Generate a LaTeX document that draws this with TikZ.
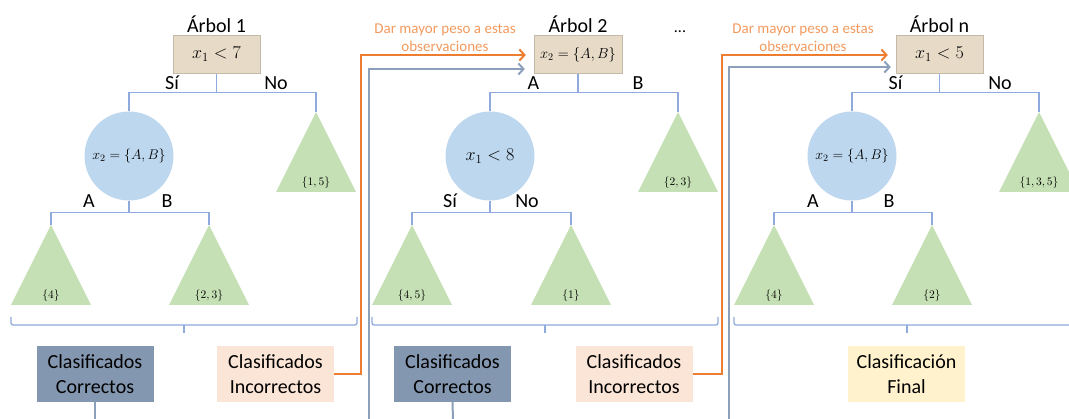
\RequirePackage{fix-cm}
\documentclass[tikz,border=0pt]{standalone}
\usepackage[no-math]{fontspec}
\setmainfont{Carlito}
\usepackage{xcolor}
\usepackage{tikz}
\usetikzlibrary{arrows.meta,positioning,calc}

\definecolor{rootfill}{HTML}{E7DBC8}
\definecolor{splitfill}{HTML}{BDD7EE}
\definecolor{leaffill}{HTML}{C5E0B4}
\definecolor{edgeblue}{HTML}{8FAADC}
\definecolor{okfill}{HTML}{8497B0}
\definecolor{badfill}{HTML}{FBE5D6}
\definecolor{finalfill}{HTML}{FFF2CC}
\definecolor{wtorange}{HTML}{ED7D31}
\definecolor{wttext}{HTML}{F29A5E}
\definecolor{okline}{HTML}{8C9FBB}

\begin{document}
\begin{tikzpicture}[
  x=1pt, y=-1pt,
  every node/.style={font=\fontsize{20}{24}\selectfont},
  rootbox/.style={draw=rootfill!85!black, line width=0.4pt, fill=rootfill, minimum width=87pt, minimum height=38pt, inner sep=0pt, font=\fontsize{18}{22}\selectfont},
  split/.style={circle, fill=splitfill, minimum size=89pt, inner sep=0pt, font=\fontsize{18}{22}\selectfont},
  leaf/.style={fill=leaffill},
  leaftxt/.style={font=\fontsize{11.5}{13}\selectfont},
  lbl/.style={anchor=base, inner sep=0pt},
  outbox/.style={minimum width=117pt, minimum height=56pt, inner sep=0pt, align=center, font=\fontsize{20}{25}\selectfont},
  edge/.style={draw=edgeblue, line width=1.3pt},
  brace/.style={draw=edgeblue, line width=1.3pt, rounded corners=2pt},
  wt/.style={draw=wtorange, line width=2pt, ->, shorten >=8pt},
  ok/.style={draw=okline, line width=2pt},
  >={Straight Barb[length=5pt,width=11pt]}
]
\useasboundingbox (0,0) rectangle (1069,419);

% arbol 1
\node[lbl] (title1) at (216.5,33) {Árbol 1};
\node[rootbox] (root1) at (216.5,54.5) {$x_1 < 7$};
\node[split, font=\fontsize{14}{17}\selectfont] (split1) at (129,156) {$x_2 = \{A,B\}$};

% arbol 2
\node[lbl] (title2) at (578,33) {Árbol 2};
\node[lbl, font=\fontsize{16}{18}\selectfont] (dots) at (680,33) {...};
\node[rootbox, minimum width=88pt, font=\fontsize{14.5}{17}\selectfont] (root2) at (578,54.5) {$x_2 = \{A,B\}$};
\node[split] (split2) at (490,156) {$x_1 < 8$};

% arbol n
\node[lbl] (titlen) at (939.5,33) {Árbol n};
\node[rootbox] (rootn) at (939.5,54.5) {$x_1 < 5$};
\node[split, font=\fontsize{14}{17}\selectfont] (splitn) at (852,156) {$x_2 = \{A,B\}$};

% hojas
\foreach \nm/\x/\y/\val in {leaf1a/51/225/{4}, leaf1b/209/225/{2,3}, leaf1c/316/112/{1,5},
    leaf2a/412/225/{4,5}, leaf2b/571/225/{1}, leaf2c/678/112/{2,3},
    leafna/774/225/{4}, leafnb/932/225/{2}, leafnc/1039/112/{1,3,5}} {
  \coordinate (\nm) at (\x,\y);
  \fill[leaf] (\nm) -- ++(40,80) -- ++(-80,0) -- cycle;
  \node[leaftxt] (\nm-txt) at ($(\nm)+(0,71)$) {$\{\val\}$};
}

% ramas
\draw[edge] (root1.south) -- ++(0,19.5);
\draw[edge] (split1.north) -- ++(0,-19) -| (leaf1c);
\draw[edge] (split1.south) -- ++(0,12) -| (leaf1a);
\draw[edge] (split1.south) -- ++(0,12) -| (leaf1b);
\draw[edge] (root2.south) -- ++(0,19.5);
\draw[edge] (split2.north) -- ++(0,-19) -| (leaf2c);
\draw[edge] (split2.south) -- ++(0,12) -| (leaf2a);
\draw[edge] (split2.south) -- ++(0,12) -| (leaf2b);
\draw[edge] (rootn.south) -- ++(0,19.5);
\draw[edge] (splitn.north) -- ++(0,-19) -| (leafnc);
\draw[edge] (splitn.south) -- ++(0,12) -| (leafna);
\draw[edge] (splitn.south) -- ++(0,12) -| (leafnb);

\node[lbl] (si1) at (172,90) {Sí};
\node[lbl] (no1) at (276,90) {No};
\node[lbl] (a1) at (89,208) {A};
\node[lbl] (b1) at (167,208) {B};
\node[lbl] (a2) at (533.5,90) {A};
\node[lbl] (b2) at (638,90) {B};
\node[lbl] (si2) at (450,208) {Sí};
\node[lbl] (no2) at (527,208) {No};
\node[lbl] (sin) at (895.5,90) {Sí};
\node[lbl] (non) at (1000,90) {No};
\node[lbl] (an) at (813,208) {A};
\node[lbl] (bn) at (889,208) {B};

% llaves
\draw[brace] (11,317) -- (11,325) -- (357,325) -- (357,317);
\draw[brace] (184,325) -- (184,333);
\draw[brace] (372,317) -- (372,325) -- (718,325) -- (718,317);
\draw[brace] (545,325) -- (545,333);
\draw[brace] (734,317) -- (734,325) -- (1080,325) -- (1080,317);
\draw[brace] (907,325) -- (907,333);

% resultados
\node[outbox, fill=okfill] (ok1) at (95,374) {Clasificados\\Correctos};
\node[outbox, fill=badfill] (bad1) at (275.5,374) {Clasificados\\Incorrectos};
\node[outbox, fill=okfill] (ok2) at (452.5,374) {Clasificados\\Correctos};
\node[outbox, fill=badfill] (bad2) at (634,374) {Clasificados\\Incorrectos};
\node[outbox, fill=finalfill] (final) at (906.5,374) {Clasificación\\Final};

% pesos
\node[align=center, text=wttext, font=\fontsize{15}{18}\selectfont] (note2) at (445,38) {Dar mayor peso a estas\\observaciones};
\node[align=center, text=wttext, font=\fontsize{15}{18}\selectfont] (noten) at (803,38) {Dar mayor peso a estas\\observaciones};
\coordinate (wt2) at (361,55);
\coordinate (wtn) at (722,55);
\draw[wt] (bad1.east) -| (wt2) -- (root2.west |- wt2);
\draw[wt] (bad2.east) -| (wtn) -- (rootn.west |- wtn);

\coordinate (okend1) at (95,419);
\coordinate (okend2) at (453,419);
\draw[ok] (ok1.south) -- (okend1);
\draw[ok] (ok2.south) -- (okend2);
\coordinate (okin2) at (369,419);
\coordinate (okturn2) at (369,69);
\coordinate (okinn) at (729,419);
\coordinate (okturnn) at (729,67);
\draw[ok, ->, shorten >=9pt] (okin2) -- (okturn2) -- (root2.west |- okturn2);
\draw[ok, ->, shorten >=5pt] (okinn) -- (okturnn) -- (rootn.west |- okturnn);
\end{tikzpicture}
\end{document}
